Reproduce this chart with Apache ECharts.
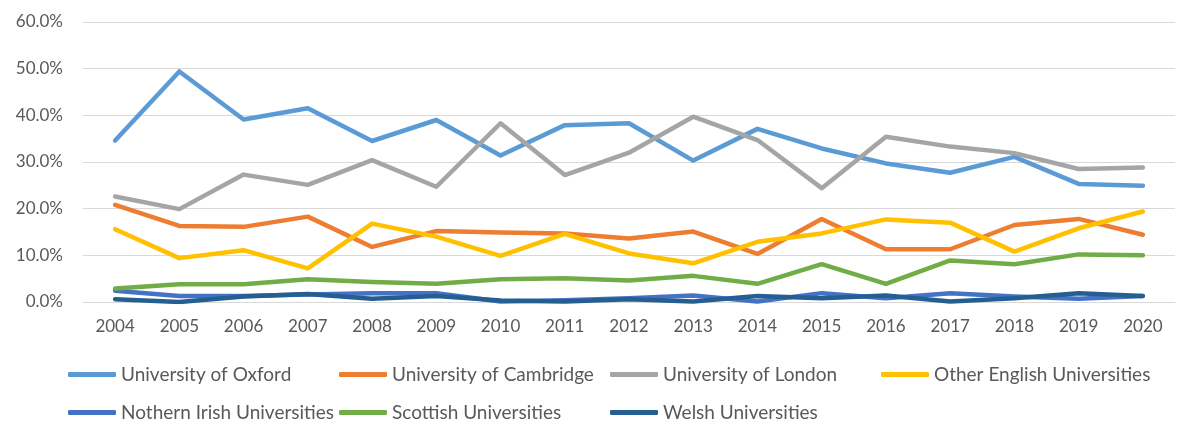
<!DOCTYPE html>
<html>
<head>
<meta charset="utf-8">
<title>Universities</title>
<script src="https://cdn.jsdelivr.net/npm/echarts@6/dist/echarts.min.js"></script>
<style>
  html, body { margin: 0; padding: 0; background: #fff; }
  #main { width: 1187px; height: 428px; }
</style>
</head>
<body>
<div id="main"></div>
<script>
// 数据
var years = ['2004', '2005', '2006', '2007', '2008', '2009', '2010', '2011', '2012',
             '2013', '2014', '2015', '2016', '2017', '2018', '2019', '2020'];
var seriesNames = ['University of Oxford', 'University of Cambridge', 'University of London',
                   'Other English Universities', 'Nothern Irish Universities',
                   'Scottish Universities', 'Welsh Universities'];
var oxford       = [34.6, 49.4, 39.1, 41.5, 34.5, 39.0, 31.4, 37.9, 38.3, 30.3, 37.1, 32.9, 29.7, 27.7, 31.1, 25.3, 24.9];
var cambridge    = [20.8, 16.3, 16.1, 18.3, 11.8, 15.2, 14.9, 14.7, 13.6, 15.1, 10.3, 17.8, 11.3, 11.3, 16.5, 17.8, 14.4];
var london       = [22.6, 19.9, 27.3, 25.1, 30.4, 24.7, 38.3, 27.2, 32.0, 39.7, 34.7, 24.4, 35.4, 33.3, 31.9, 28.5, 28.8];
var otherEnglish = [15.6, 9.4, 11.1, 7.2, 16.8, 14.0, 9.9, 14.6, 10.4, 8.3, 12.9, 14.7, 17.7, 17.0, 10.8, 15.8, 19.4];
var nIrish       = [2.4, 1.3, 1.3, 1.6, 1.9, 1.9, 0.1, 0.4, 0.8, 1.4, 0.1, 1.9, 0.8, 1.9, 1.2, 0.7, 1.3];
var scottish     = [2.9, 3.8, 3.8, 4.9, 4.3, 3.9, 4.9, 5.1, 4.6, 5.6, 3.9, 8.1, 3.9, 8.9, 8.1, 10.2, 10.0];
var welsh        = [0.6, 0.0, 1.2, 1.7, 0.7, 1.3, 0.3, 0.1, 0.6, 0.1, 1.3, 0.8, 1.4, 0.1, 0.8, 1.9, 1.3];

var allData = [oxford, cambridge, london, otherEnglish, nIrish, scottish, welsh];
var colors = ['#5B9BD5', '#ED7D31', '#A5A5A5', '#FFC000', '#4472C4', '#70AD47', '#255E91'];

var font = 'Lato, "Liberation Sans", sans-serif';

var myChart = echarts.init(document.getElementById('main'));

// 图例：两行四列，逐个定位
var legendLeft = [68, 339, 610, 881];
var legendTop = [365, 403];
var legends = seriesNames.map(function (name, i) {
    return {
        data: [name],
        left: legendLeft[i % 4],
        top: legendTop[Math.floor(i / 4)],
        icon: 'roundRect',
        itemWidth: 48,
        itemHeight: 5,
        padding: 0,
        textStyle: { color: '#595959', fontSize: 19, fontFamily: font }
    };
});

var series = seriesNames.map(function (name, i) {
    return {
        name: name,
        type: 'line',
        data: allData[i],
        symbol: 'none',
        smooth: false,
        itemStyle: { color: colors[i] },
        lineStyle: { color: colors[i], width: 4.5, cap: 'round', join: 'round' }
    };
});

var option = {
    animation: false,
    color: colors,
    grid: { left: 83, right: 12, top: 22, bottom: 126 },
    legend: legends,
    xAxis: {
        type: 'category',
        data: years,
        boundaryGap: true,
        axisLine: { show: true, lineStyle: { color: '#D9D9D9', width: 1 } },
        axisTick: { show: false },
        axisLabel: { color: '#595959', fontSize: 17, fontFamily: font, margin: 16 }
    },
    yAxis: {
        type: 'value',
        min: 0,
        max: 60,
        interval: 10,
        axisLine: { show: false },
        axisTick: { show: false },
        splitLine: { lineStyle: { color: '#D9D9D9', width: 1 } },
        axisLabel: {
            color: '#595959', fontSize: 17, fontFamily: font, margin: 20,
            formatter: function (v) { return v.toFixed(1) + '%'; }
        }
    },
    series: series
};
myChart.setOption(option);
</script>
</body>
</html>
